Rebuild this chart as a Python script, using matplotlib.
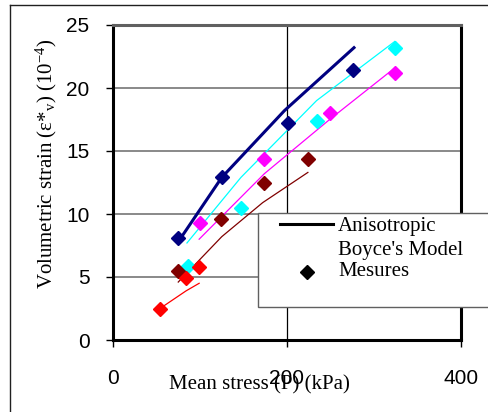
import numpy as np
import matplotlib
matplotlib.use('Agg')
import matplotlib.pyplot as plt
from matplotlib.lines import Line2D
from matplotlib.patches import Rectangle

plt.rcParams['mathtext.fontset'] = 'custom'
plt.rcParams['mathtext.rm'] = 'Liberation Serif'
plt.rcParams['mathtext.it'] = 'Liberation Serif:italic'

# measured points (kPa, 1e-4)
navy_p = [75, 125, 201, 276]
navy_e = [8.1, 12.9, 17.2, 21.4]
cyan_p = [86, 147, 234, 324]
cyan_e = [5.9, 10.5, 17.4, 23.2]
mag_p = [100, 174, 249, 324]
mag_e = [9.3, 14.4, 18.0, 21.2]
mar_p = [75, 124, 174, 224]
mar_e = [5.5, 9.6, 12.5, 14.4]
red_p = [54, 84, 99]
red_e = [2.5, 4.9, 5.8]

# anisotropic Boyce's model curves
navy_mp = [77, 125, 197, 277]
navy_me = [8.0, 12.9, 18.2, 23.2]
cyan_mp = [85, 147, 234, 324]
cyan_me = [7.7, 12.9, 19.0, 23.7]
mag_mp = [99, 174, 249, 324]
mag_me = [8.0, 13.2, 17.5, 21.6]
mar_mp = [75, 125, 172, 224]
mar_me = [4.6, 8.2, 10.9, 13.3]
red_mp = [54, 84, 99]
red_me = [2.5, 3.9, 4.5]

W, H = 488, 412
fig = plt.figure(figsize=(W / 100, H / 100), dpi=100)
ax = fig.add_axes([113 / W, 1 - 340 / H, 348 / W, 315 / H])

series = [
    (navy_mp, navy_me, navy_p, navy_e, '#000080', 2.2),
    (cyan_mp, cyan_me, cyan_p, cyan_e, '#00FFFF', 0.9),
    (mag_mp, mag_me, mag_p, mag_e, '#FF00FF', 0.9),
    (mar_mp, mar_me, mar_p, mar_e, '#800000', 0.9),
    (red_mp, red_me, red_p, red_e, '#FF0000', 0.9),
]
for mp, me, p, e, c, lw in series:
    ax.plot(mp, me, '-', color=c, lw=lw, zorder=3)
    ax.plot(p, e, 'D', color=c, ms=7.5, mec=c, zorder=4)

ax.set_xlim(0, 400)
ax.set_ylim(0, 25)
ax.set_xticks([0, 200, 400])
ax.set_yticks([0, 5, 10, 15, 20, 25])
for yv in [5, 10, 15, 20]:
    ax.axhline(yv, color='#808080', lw=1.3, zorder=1)
ax.axvline(200, color='black', lw=0.9, zorder=1)

for s in ['left', 'bottom', 'right']:
    ax.spines[s].set_linewidth(2.2)
    ax.spines[s].set_color('black')
ax.spines['top'].set_linewidth(2.2)
ax.spines['top'].set_color('#606060')

ax.tick_params(axis='both', direction='out', length=5, width=1, labelsize=15,
               labelfontfamily='Liberation Sans')
ax.tick_params(axis='x', pad=16)
ax.tick_params(axis='y', pad=12)

fig.text(259 / W, 1 - 385 / H, 'Mean stress (P) (kPa)', family='Liberation Serif',
         fontsize=15, ha='center', va='center')
fig.text(46 / W, 1 - 164 / H, 'Volumetric strain (ε*$_{\\mathrm{v}}$) (10$^{-4}$)',
         family='Liberation Serif', fontsize=15, ha='center', va='center', rotation=90)

# outer chart border
fig.add_artist(Line2D([10 / W, 1], [1 - 5 / H, 1 - 5 / H], color='#202020', lw=1))
fig.add_artist(Line2D([10 / W, 10 / W], [0, 1 - 5 / H], color='#202020', lw=1))

# legend box
fig.add_artist(Rectangle((258 / W, 1 - 307 / H), 240 / W, 94 / H, transform=fig.transFigure,
                         facecolor='white', edgecolor='#606060', lw=1, zorder=5))
fig.add_artist(Line2D([280 / W, 333 / W], [1 - 224 / H, 1 - 224 / H], color='black', lw=2.2, zorder=6))
fig.add_artist(Line2D([307 / W], [1 - 272 / H], marker='D', ms=7.5, color='black', zorder=6))
for txt, yy in [('Anisotropic', 227), ("Boyce's Model", 250), ('Mesures', 272)]:
    fig.text(338 / W, 1 - yy / H, txt, family='Liberation Serif', fontsize=15,
             ha='left', va='center', zorder=6)

fig.savefig('out.png', dpi=100)
